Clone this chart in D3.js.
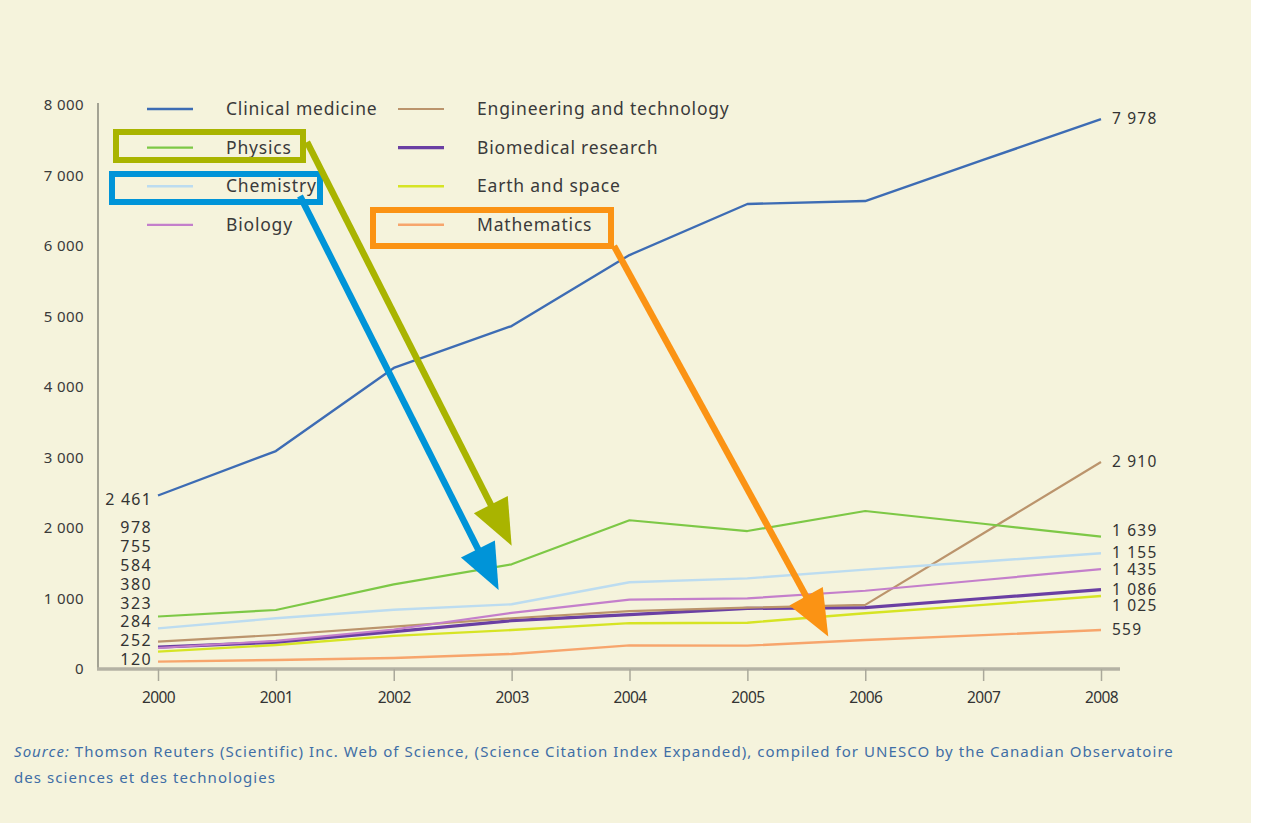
<!DOCTYPE html>
<html>
<head>
<meta charset="utf-8">
<script src="https://cdn.jsdelivr.net/npm/d3@7"></script>
<style>
  body { margin: 0; background: #fff; }
  svg { display: block; }
  text { font-family: "Noto Sans", "Open Sans", sans-serif; }
</style>
</head>
<body>
<svg id="chart" width="1263" height="823"></svg>
<script>
// data
var years = [2000, 2001, 2002, 2003, 2004, 2005, 2006, 2007, 2008];
var yTicks = [0, 1000, 2000, 3000, 4000, 5000, 6000, 7000, 8000];

var clinicalMedicine = [2461, 3092, 4270, 4865, 5872, 6596, 6638, 7220, 7800];
var physics          = [745, 837, 1200, 1485, 2110, 1957, 2241, 2060, 1877];
var chemistry        = [577, 719, 840, 918, 1230, 1286, 1410, 1525, 1641];
var biology          = [298, 400, 560, 795, 985, 1002, 1110, 1262, 1418];
var engineering      = [387, 482, 600, 720, 822, 870, 910, 1922, 2936];
var biomedical       = [310, 380, 530, 686, 770, 860, 870, 1000, 1125];
var earthSpace       = [246, 340, 470, 553, 650, 657, 790, 910, 1035];
var mathematics      = [104, 128, 155, 213, 335, 331, 411, 480, 553];

// printed value labels (as in the original, they don't all sit on their line)
var startLabels = ["2 461", "978", "755", "584", "380", "323", "284", "252", "120"];
var endLabels   = ["7 978", "2 910", "1 639", "1 155", "1 435", "1 086", "1 025", "559"];

var series = [
  {name: "Clinical medicine", values: clinicalMedicine, color: "#3d6cb4", width: 2.4},
  {name: "Physics", values: physics, color: "#7dc846", width: 2.2},
  {name: "Chemistry", values: chemistry, color: "#bcdcf0", width: 2.4},
  {name: "Biology", values: biology, color: "#c47fcb", width: 2.2},
  {name: "Engineering and technology", values: engineering, color: "#bb946c", width: 2.2},
  {name: "Biomedical research", values: biomedical, color: "#6a3fa3", width: 3.2},
  {name: "Earth and space", values: earthSpace, color: "#d6e424", width: 2.4},
  {name: "Mathematics", values: mathematics, color: "#f7a56c", width: 2.4}
];
// order the end labels are attached in (top to bottom)
var endOrder = ["Clinical medicine", "Engineering and technology", "Physics", "Chemistry",
                "Biology", "Biomedical research", "Earth and space", "Mathematics"];

var svg = d3.select("#chart");
svg.append("rect").attr("width", 1251).attr("height", 823).attr("fill", "#f5f3dc");

var x = d3.scaleLinear().domain([2000, 2008]).range([158, 1101]);
var y = d3.scaleLinear().domain([0, 8000]).range([669, 105]);

// y axis
svg.append("line")
  .attr("x1", 98).attr("x2", 98).attr("y1", 103).attr("y2", 669)
  .attr("stroke", "#77776c").attr("stroke-width", 1.3);
svg.selectAll(".ylab").data(yTicks).enter().append("text")
  .attr("class", "ylab")
  .attr("x", 84).attr("y", d => y(d) + 5)
  .attr("text-anchor", "end")
  .attr("font-size", 15)
  .attr("letter-spacing", 0.4)
  .attr("fill", "#3a3a3a")
  .text(d => d3.format(",")(d).replace(",", " "));

// x axis
var xAxis = d3.axisBottom(x).tickValues(years).tickFormat(d3.format("d")).tickSize(12).tickPadding(11);
var gx = svg.append("g").attr("transform", "translate(0,669)").call(xAxis);
gx.select(".domain").attr("d", "M97,0H1120").attr("stroke", "#b4b2a4").attr("stroke-width", 3.5);
gx.selectAll(".tick line").attr("stroke", "#aaa89a").attr("stroke-width", 1.5);
gx.selectAll(".tick text")
  .attr("fill", "#333")
  .attr("font-size", 15.5)
  .attr("font-family", "'Noto Sans', sans-serif")
  .attr("letter-spacing", -0.6);

// lines
var line = d3.line().x((d, i) => x(years[i])).y(d => y(d));
var drawOrder = ["Mathematics", "Earth and space", "Biomedical research", "Engineering and technology",
                 "Biology", "Chemistry", "Physics", "Clinical medicine"];
drawOrder.forEach(function(name){
  var s = series.find(d => d.name === name);
  svg.append("path")
    .datum(s.values)
    .attr("d", line)
    .attr("fill", "none")
    .attr("stroke", s.color)
    .attr("stroke-width", s.width)
    .attr("stroke-linejoin", "round");
});

// start labels: first one by the clinical line, the rest stacked up from the axis
svg.append("text")
  .attr("x", 152).attr("y", y(clinicalMedicine[0]) + 10)
  .attr("text-anchor", "end").attr("font-size", 16).attr("fill", "#333")
  .attr("letter-spacing", 1.2)
  .text(startLabels[0]);
var rest = startLabels.slice(1);
svg.selectAll(".slab").data(rest).enter().append("text")
  .attr("class", "slab")
  .attr("x", 152)
  .attr("y", (d, i) => y(0) - 4 - (rest.length - 1 - i) * 18.8)
  .attr("text-anchor", "end").attr("font-size", 16).attr("fill", "#333")
  .attr("letter-spacing", 1.4)
  .text(d => d);

// end labels: at the line end, pushed down where they would overlap
var lastY = -Infinity;
endOrder.forEach(function(name, i){
  var s = series.find(d => d.name === name);
  var ly = y(s.values[s.values.length - 1]);
  if (i === 2) ly -= 6;
  if (ly < lastY + 16.5) ly = lastY + 16.5;
  lastY = ly;
  svg.append("text")
    .attr("x", 1112).attr("y", ly + 5)
    .attr("font-size", 15.5).attr("fill", "#333")
    .attr("letter-spacing", 1.2)
    .text(endLabels[i]);
});

// legend, two columns
var legend = svg.append("g");
series.forEach(function(s, i){
  var col = i < 4 ? 0 : 1;
  var row = i % 4;
  var lx = col === 0 ? 147 : 398;
  var ly = 109 + row * 38.6;
  legend.append("line")
    .attr("x1", lx).attr("x2", lx + 46).attr("y1", ly).attr("y2", ly)
    .attr("stroke", s.color).attr("stroke-width", s.width);
  legend.append("text")
    .attr("x", lx + 79).attr("y", ly + 6)
    .attr("font-size", 17.5).attr("fill", "#3a3a3a")
    .attr("letter-spacing", 0.8)
    .text(s.name);
});

// highlight boxes and arrows drawn over the chart
function arrow(color, x1, y1, x2, y2){
  var dx = x2 - x1, dy = y2 - y1, len = Math.sqrt(dx*dx + dy*dy);
  var ux = dx / len, uy = dy / len;
  var headLen = 46, headHalf = 19;
  var bx = x2 - ux * headLen, by = y2 - uy * headLen;
  svg.append("line")
    .attr("x1", x1).attr("y1", y1).attr("x2", bx + ux * 4).attr("y2", by + uy * 4)
    .attr("stroke", color).attr("stroke-width", 6.5);
  svg.append("path")
    .attr("d", "M" + x2 + "," + y2 +
               "L" + (bx - uy * headHalf) + "," + (by + ux * headHalf) +
               "L" + (bx + uy * headHalf) + "," + (by - ux * headHalf) + "Z")
    .attr("fill", color);
}
function box(color, x0, y0, w, h){
  svg.append("rect")
    .attr("x", x0).attr("y", y0).attr("width", w).attr("height", h)
    .attr("fill", "none").attr("stroke", color).attr("stroke-width", 6);
}

box("#a9b400", 116, 132, 187, 28);
box("#0094d8", 112, 174, 208, 28);
box("#fb9314", 373, 210, 238, 36);
arrow("#a9b400", 307, 142, x(2003), y(1750));
arrow("#0094d8", 300, 196, x(2003) - 13, y(1120));
arrow("#fb9314", 614, 246, x(2006) - 37, y(460));

// source note
var src = svg.append("text").attr("x", 14).attr("y", 757)
  .attr("font-size", 15).attr("fill", "#3f6ea6").attr("letter-spacing", 1.05);
src.append("tspan").attr("font-style", "italic").text("Source:");
src.append("tspan").text(" Thomson Reuters (Scientific) Inc. Web of Science, (Science Citation Index Expanded), compiled for UNESCO by the Canadian Observatoire");
svg.append("text").attr("x", 14).attr("y", 783)
  .attr("font-size", 15).attr("fill", "#3f6ea6").attr("letter-spacing", 1.05)
  .text("des sciences et des technologies");
</script>
</body>
</html>
